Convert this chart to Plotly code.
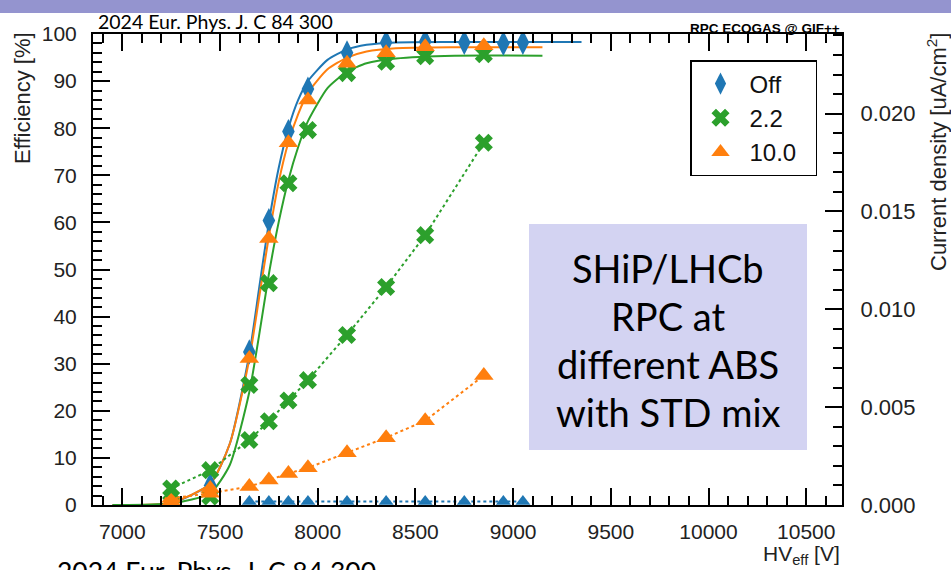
import plotly.graph_objects as go

# ---------------- data ----------------
hv_eff = [7250, 7450, 7650, 7750, 7850, 7950, 8150, 8350, 8550, 8750, 8950, 9050]
eff_off = [0.3, 4.2, 32.5, 60.4, 79.3, 88.3, 96.0, 98.2, 98.4, 98.2, 98.0, 98.2]

hv_eff_22 = [7250, 7450, 7650, 7750, 7850, 7950, 8150, 8350, 8550, 8850]
eff_22 = [0.5, 1.8, 25.5, 47.1, 68.3, 79.6, 91.7, 94.1, 95.3, 95.7]

hv_eff_10 = [7250, 7450, 7650, 7750, 7850, 7950, 8150, 8350, 8550, 8850]
eff_10 = [0.8, 3.5, 31.1, 56.6, 76.9, 86.0, 93.8, 96.0, 97.3, 97.5]

# current density [uA/cm2]
hv_cur_off = [7650, 7750, 7850, 7950, 8150, 8350, 8550, 8750, 8950, 9050]
cur_off = [0.00018, 0.00018, 0.00018, 0.00018, 0.00018, 0.00018, 0.00018, 0.00018, 0.00018, 0.00018]

hv_cur_22 = [7250, 7450, 7650, 7750, 7850, 7950, 8150, 8350, 8550, 8850]
cur_22 = [0.00084, 0.00178, 0.00332, 0.00428, 0.00534, 0.00638, 0.00869, 0.01114, 0.01379, 0.01851]

hv_cur_10 = [7250, 7450, 7650, 7750, 7850, 7950, 8150, 8350, 8550, 8850]
cur_10 = [0.00034, 0.00060, 0.00094, 0.00128, 0.00161, 0.00190, 0.00267, 0.00344, 0.00431, 0.00662]

# sigmoid fit curves
fit_hv_off = [6950, 7250, 7450, 7550, 7650, 7700, 7750, 7800, 7850, 7900, 7950, 8050, 8150, 8250, 8400, 8700, 9350]
fit_off = [0.0, 0.4, 4.5, 13.0, 32.0, 46.0, 60.0, 71.5, 80.0, 86.0, 90.0, 94.5, 96.7, 97.7, 98.2, 98.3, 98.3]

fit_hv_22 = [6950, 7250, 7450, 7550, 7650, 7700, 7750, 7800, 7850, 7900, 7950, 8050, 8150, 8250, 8400, 8700, 9150]
fit_22 = [0.0, 0.3, 2.5, 8.5, 24.0, 36.0, 49.0, 60.0, 69.0, 76.0, 81.5, 88.5, 92.0, 93.8, 94.8, 95.4, 95.4]

fit_hv_10 = [6950, 7250, 7450, 7550, 7650, 7700, 7750, 7800, 7850, 7900, 7950, 8050, 8150, 8250, 8400, 8700, 9150]
fit_10 = [0.0, 0.5, 4.5, 13.0, 31.0, 44.0, 57.0, 68.5, 77.0, 83.0, 87.5, 92.5, 95.0, 96.3, 97.0, 97.2, 97.2]

legend_names = ["Off", "2.2", "10.0"]

x_ticks = [7000, 7500, 8000, 8500, 9000, 9500, 10000, 10500]
x_tick_text = ["7000", "7500", "8000", "8500", "9000", "9500", "10000", "10500"]
y_ticks = [0, 10, 20, 30, 40, 50, 60, 70, 80, 90, 100]
y2_ticks = [0.000, 0.005, 0.010, 0.015, 0.020]

box_lines = ["SHiP/LHCb", "RPC at", "different ABS", "with STD mix"]

# ---------------- styles ----------------
BLUE = "#1f77b4"
GREEN = "#2ca02c"
ORANGE = "#ff7f0e"
SANS = "Liberation Sans, Arial, sans-serif"
HUMAN = "Lato, Carlito, sans-serif"
LEGEND_PAD = "\u00a0\u00a0"

W, H = 951, 570
L, R, T, B = 93, 842, 34, 505


def px_x(px):
    return (px - L) / (R - L)


def px_y(py):
    return (B - py) / (B - T)


fig = go.Figure()

# fit curves
for hv, val, col in [(fit_hv_off, fit_off, BLUE), (fit_hv_10, fit_10, ORANGE), (fit_hv_22, fit_22, GREEN)]:
    fig.add_trace(go.Scatter(x=hv, y=val, mode="lines", line=dict(color=col, width=2, shape="spline", smoothing=0.6),
                             showlegend=False, hoverinfo="skip"))

# current density (right axis)
for hv, val, col, sym, sz in [(hv_cur_off, cur_off, BLUE, "triangle-up", 13),
                              (hv_cur_10, cur_10, ORANGE, "triangle-up", 17),
                              (hv_cur_22, cur_22, GREEN, "x", 16)]:
    fig.add_trace(go.Scatter(x=hv, y=val, yaxis="y2", mode="lines+markers",
                             line=dict(color=col, width=2, dash="dot"),
                             marker=dict(color=col, symbol=sym, size=sz, line=dict(width=0)),
                             showlegend=False))

# efficiency points
for hv, val, col, sym, sz, name in [(hv_eff, eff_off, BLUE, "diamond-tall", 18, legend_names[0]),
                                    (hv_eff_22, eff_22, GREEN, "x", 16, legend_names[1]),
                                    (hv_eff_10, eff_10, ORANGE, "triangle-up", 17, legend_names[2])]:
    fig.add_trace(go.Scatter(x=hv, y=val, mode="markers", name=name + LEGEND_PAD, legendgroup=name,
                             marker=dict(color=col, symbol=sym, size=sz, line=dict(width=0))))

tickfont = dict(family=SANS, size=21, color="#222")

fig.update_layout(
    width=W, height=H,
    margin=dict(l=L, r=W - R, t=T, b=H - B, pad=0),
    paper_bgcolor="white", plot_bgcolor="white",
    showlegend=True,
    legend=dict(x=px_x(690), y=px_y(60), xanchor="left", yanchor="top",
                bgcolor="white", bordercolor="black", borderwidth=1.5,
                font=dict(family=SANS, size=24, color="#111"),
                tracegroupgap=9, itemwidth=48, traceorder="normal"),
    xaxis=dict(range=[6850, 10683], tickvals=x_ticks, ticktext=x_tick_text, ticks="inside", ticklen=17, tickwidth=2,
               tickcolor="black", showline=True, linewidth=2, linecolor="black", mirror="ticks",
               showgrid=False, zeroline=False, tickfont=tickfont, ticklabelstandoff=7,
               minor=dict(dtick=100, tick0=7000, ticks="inside", ticklen=9, tickwidth=1.5,
                          tickcolor="black", showgrid=False)),
    yaxis=dict(range=[0, 100], tickvals=y_ticks, ticks="inside", ticklen=17, tickwidth=2,
               tickcolor="black", showline=True, linewidth=2, linecolor="black", mirror=True,
               showgrid=False, zeroline=False, tickfont=tickfont, ticklabelstandoff=10,
               minor=dict(dtick=2, tick0=0, ticks="inside", ticklen=9, tickwidth=1.5,
                          tickcolor="black", showgrid=False)),
    yaxis2=dict(range=[0, 0.02407], overlaying="y", side="right", tickvals=y2_ticks,
                tickformat=".3f", ticks="inside", ticklen=17, tickwidth=2, tickcolor="black",
                showline=True, linewidth=2, linecolor="black", showgrid=False, zeroline=False,
                tickfont=dict(family=SANS, size=22, color="#222"), ticklabelstandoff=12,
                minor=dict(dtick=0.001, tick0=0, ticks="inside", ticklen=9, tickwidth=1.5,
                           tickcolor="black", showgrid=False)),
)

shapes = [
    # purple band at top
    dict(type="rect", xref="paper", yref="paper", x0=px_x(0), x1=px_x(W), y0=px_y(13), y1=px_y(0),
         fillcolor="#9494cf", line=dict(width=0), layer="above"),
    # lavender box
    dict(type="rect", xref="paper", yref="paper", x0=px_x(529), x1=px_x(807), y0=px_y(450), y1=px_y(224),
         fillcolor="#d3d3f2", line=dict(width=0), layer="above"),
]
fig.update_layout(shapes=shapes)

ann = []
ann.append(dict(text="2024 Eur. Phys. J. C 84 300", x=px_x(96), y=px_y(21), xref="paper", yref="paper",
                xanchor="left", yanchor="middle", showarrow=False,
                font=dict(family=HUMAN, size=19.5, color="black")))
ann.append(dict(text="<b>RPC ECOGAS @ GIF++</b>", x=px_x(842), y=px_y(28), xref="paper", yref="paper",
                xanchor="right", yanchor="middle", showarrow=False,
                font=dict(family=SANS, size=13.5, color="black")))
ann.append(dict(text="Efficiency [%]", x=px_x(22), y=px_y(30), xref="paper", yref="paper",
                xanchor="center", yanchor="top", textangle=-90, showarrow=False,
                font=dict(family=SANS, size=22, color="#222")))
ann.append(dict(text="Current density [uA/cm<sup>2</sup>]", x=px_x(937), y=px_y(31), xref="paper", yref="paper",
                xanchor="center", yanchor="top", textangle=-90, showarrow=False,
                font=dict(family=SANS, size=22, color="#222")))
ann.append(dict(text="HV<sub>eff</sub> [V]", x=px_x(842), y=px_y(555), xref="paper", yref="paper",
                xanchor="right", yanchor="middle", showarrow=False,
                font=dict(family=SANS, size=21, color="#222")))
ann.append(dict(text="2024 Eur. Phys. J. C 84 300", x=px_x(55), y=px_y(553), xref="paper", yref="paper",
                xanchor="left", yanchor="top", showarrow=False,
                font=dict(family=HUMAN, size=26.5, color="black")))
for i, line in enumerate(box_lines):
    ann.append(dict(text=line, x=px_x(668), y=px_y(268 + 48 * i), xref="paper", yref="paper",
                    xanchor="center", yanchor="middle", showarrow=False,
                    font=dict(family=HUMAN, size=38, color="black")))
fig.update_layout(annotations=ann)

fig.write_html("out.html")
